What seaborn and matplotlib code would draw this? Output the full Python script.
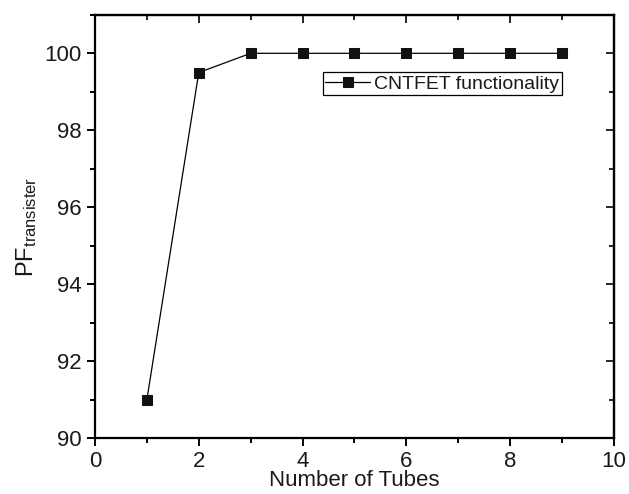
import pandas as pd
import matplotlib.pyplot as plt
import seaborn as sns
from matplotlib.ticker import MultipleLocator

tubes = [1, 2, 3, 4, 5, 6, 7, 8, 9]
pf = [91.0, 99.5, 100, 100, 100, 100, 100, 100, 100]

df = pd.DataFrame({"tubes": tubes, "pf": pf})

sns.set_style("ticks")
plt.rcParams["font.family"] = ["Liberation Sans", "DejaVu Sans"]
plt.rcParams["mathtext.fontset"] = "custom"
plt.rcParams["mathtext.rm"] = "Liberation Sans"
plt.rcParams["mathtext.it"] = "Liberation Sans"
txt = "#1a1a1a"

fig, ax = plt.subplots(figsize=(6.29, 4.94), dpi=100)
sns.lineplot(data=df, x="tubes", y="pf", ax=ax, color="black", linewidth=0.9,
             marker="s", markersize=7.5, markeredgecolor="#111111",
             markerfacecolor="#111111", label="CNTFET functionality")

ax.set_xlim(0, 10)
ax.set_ylim(90, 101)
ax.xaxis.set_major_locator(MultipleLocator(2))
ax.xaxis.set_minor_locator(MultipleLocator(1))
ax.yaxis.set_major_locator(MultipleLocator(2))
ax.yaxis.set_minor_locator(MultipleLocator(1))

for s in ax.spines.values():
    s.set_linewidth(1.6)
    s.set_color("black")

ax.tick_params(which="both", direction="out", top=False, right=False,
               labelsize=16, width=1.4, colors="black", labelcolor=txt)
ax.tick_params(which="major", length=6)
ax.tick_params(which="minor", length=3.5)

# inward ticks on the top and right frame
ax_t = ax.secondary_xaxis("top")
ax_t.xaxis.set_major_locator(MultipleLocator(2))
ax_t.xaxis.set_minor_locator(MultipleLocator(1))
ax_t.tick_params(which="both", direction="in", labeltop=False, width=1.4)
ax_t.tick_params(which="major", length=6)
ax_t.tick_params(which="minor", length=3.5)
ax_t.spines["top"].set_linewidth(1.6)
ax_r = ax.secondary_yaxis("right")
ax_r.yaxis.set_major_locator(MultipleLocator(2))
ax_r.yaxis.set_minor_locator(MultipleLocator(1))
ax_r.tick_params(which="both", direction="in", labelright=False, width=1.4)
ax_r.tick_params(which="major", length=6)
ax_r.tick_params(which="minor", length=3.5)
ax_r.spines["right"].set_linewidth(1.6)

ax.set_xlabel("Number of Tubes", fontsize=16, labelpad=-1.5, color=txt)
ax.set_ylabel(r"PF$_{\mathrm{transister}}$", fontsize=17, labelpad=4, color=txt)

leg = ax.legend(loc="upper right", bbox_to_anchor=(0.9, 0.865), fontsize=14,
                frameon=True, fancybox=False, edgecolor="black", framealpha=1,
                borderpad=0.15, handlelength=2.3, handletextpad=0.2,
                borderaxespad=0)
leg.get_frame().set_linewidth(0.9)
for t in leg.get_texts():
    t.set_color(txt)

fig.subplots_adjust(left=0.151, right=0.976, top=0.97, bottom=0.113)
fig.savefig("out.png")
